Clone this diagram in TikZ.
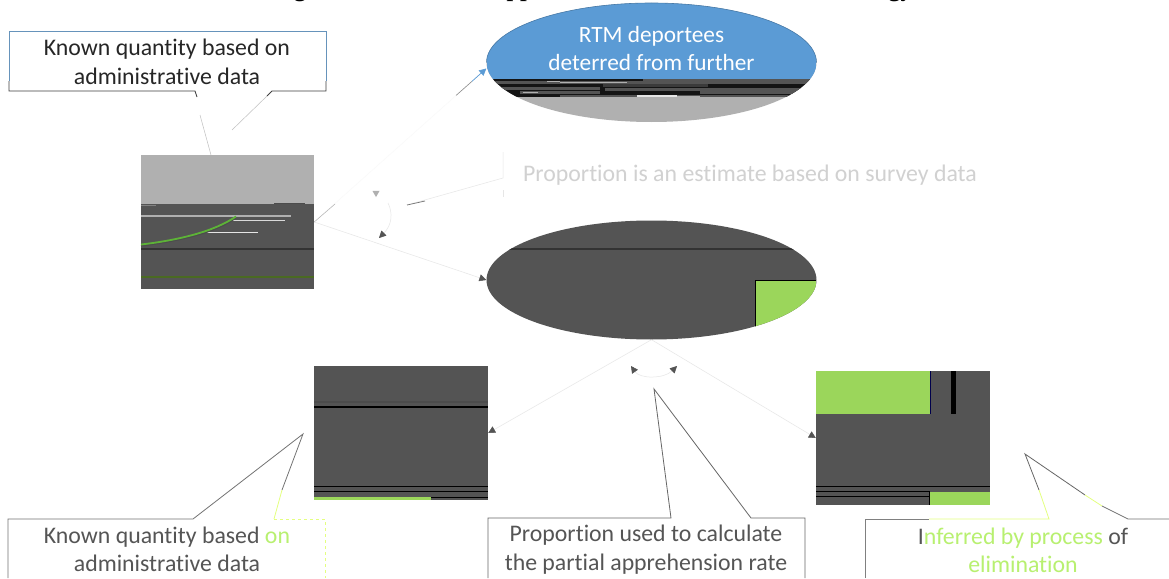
\documentclass[tikz,border=0pt]{standalone}
\usepackage{fontspec}
\setmainfont{Carlito}[Ligatures=NoCommon]
\newfontfamily\titlefont{Liberation Serif}
\usetikzlibrary{shapes.geometric,arrows.meta,calc}
\definecolor{dk}{HTML}{545454}
\definecolor{lg}{HTML}{B0B0B0}
\definecolor{bl}{HTML}{5B9BD5}
\definecolor{gr}{HTML}{9BD65B}
\definecolor{lime}{HTML}{B8F070}
\definecolor{yl}{HTML}{E4FF80}
\definecolor{tx}{HTML}{555555}
\definecolor{fnt}{HTML}{E6E6E6}
\definecolor{vfnt}{HTML}{F9F9F9}
\definecolor{dgreen}{HTML}{4A6A22}
\tikzset{
  darkbox/.style={rectangle,inner sep=0pt,minimum width=174pt,minimum height=134pt,fill=dk},
  oval/.style={ellipse,inner sep=0pt,minimum width=330pt,minimum height=119pt},
  lbl/.style={align=center,font=\fontsize{23.8}{28.5}\selectfont,text=tx,inner sep=0pt},
  faint/.style={draw=fnt,line width=0.5pt},
  endtip/.style={-{Triangle[length=7pt,width=7pt,color=#1,fill=#1]}},
  seg/.style={line width=0.8pt,draw=#1},
  titletext/.style={font=\titlefont\bfseries\fontsize{24}{24}\selectfont,anchor=base,inner sep=0pt}
}
\begin{document}
\begin{tikzpicture}[x=1pt,y=-1pt]
\useasboundingbox (0,0) rectangle (1169,578);
\clip (0,0) rectangle (1169,578);
\fill[white] (0,0) rectangle (1169,578);
% title remnants
\node[titletext] (tg) at (300,-3) {g};
\node[titletext] (tp) at (520,-3) {pp};
\node[titletext] (ty) at (903,-3) {gy,};
% shapes
\node[darkbox,minimum width=173pt] (boxA) at (227.5,222) {};
\node[darkbox] (boxB) at (401,433) {};
\node[darkbox] (boxC) at (903,438) {};
\node[oval,fill=lg,draw=none] (topE) at (651.5,62.5) {};
\node[oval,fill=dk] (midE) at (651.5,280) {};
% box A details
\fill[lg] (141,155) rectangle (314,204);
\draw[line width=1.5pt,color=lg] (141,216) -- (291,216);
\draw[line width=1.8pt,color=white!85!black] (233,220.5) -- (285,220.5);
\draw[line width=1pt,color=white!90!black] (206,232) -- (258,232);
\draw[line width=2pt,color=black!80] (141,248.5) -- (314,248.5);
\draw[line width=1.2pt,color=dgreen] (141,277) -- (314,277);
\draw[line width=1.2pt,color=black!70] (141,246) .. controls (180,241) and (215,233) .. (236,218);
\draw[line width=1.8pt,color=gr!75!green!80!black] (141,244.5) .. controls (180,240) and (215,231) .. (236,216.5);
\draw[line width=1pt,color=black!70] (274,203.5) -- (305,203.5);
\draw[line width=1pt,color=lg!50!dk] (141,205) -- (156,205);
% top ellipse details
\begin{scope}
\clip (651.5,62.5) ellipse [x radius=165pt,y radius=59.5pt];
\fill[bl] (487,0) rectangle (817,79);
\fill[black!92] (487,79) rectangle (817,97);
\fill[dk] (643,79) rectangle (817,81);
\fill[dk] (487,81) rectangle (817,84);
\fill[dk!70!black] (603,84) rectangle (708,87);
\fill[dk] (487,87) rectangle (600,89.5);
\fill[dk] (605,88) rectangle (817,90.5);
\fill[dk] (520,91) rectangle (600,94);
\fill[dk] (700,91) rectangle (817,94);
\fill[dk] (560,95) rectangle (817,97);
\draw[line width=1pt,color=white!70!black] (547,81.8) -- (560,81.8);
\draw[line width=0.8pt,color=lg] (560,82) -- (627,82);
\draw[line width=1pt,color=lg] (523,92.5) -- (538,92.5);
\draw[line width=1.5pt,color=white!90!black] (637,96.2) -- (677,96.2);
\draw[line width=1pt,color=lg] (677,96.5) -- (700,96.5);
\end{scope}
\draw[bl!80!black,line width=0.6pt] (486.5,62.5) arc[start angle=180,end angle=0,x radius=165pt,y radius=59.5pt];
% middle ellipse details
\begin{scope}
\clip (651.5,280) ellipse [x radius=165pt,y radius=59.5pt];
\fill[gr] (755,280) rectangle (817,340);
\draw[line width=1pt,color=black] (755,340) -- (755,280) -- (817,280);
\draw[line width=2pt,color=black!80] (487,248.5) -- (817,248.5);
\end{scope}
% box B details
\draw[line width=2pt,color=black!70] (314,402) -- (488,402);
\draw[line width=1.5pt,color=black] (314,407) -- (488,407);
\foreach \yy in {486,491,497} \draw[line width=0.8pt,color=black] (314,\yy) -- (488,\yy);
\fill[gr] (314,497) rectangle (431,500);
% box C details
\fill[gr] (816,371) rectangle (930,414);
\draw[line width=0.8pt,color=black!70!blue] (930,371) -- (930,414);
\fill[black] (951,371) rectangle (956,414);
\draw[line width=0.8pt,color=black] (816,486) -- (990,486);
\draw[line width=0.8pt,color=black] (816,491) -- (929,491);
\draw[line width=0.8pt,color=black] (816,496) -- (929,496);
\fill[gr] (929,492) rectangle (990,505);
\draw[line width=0.8pt,color=black] (929,491) -- (929,505);
% labels in shapes
\node[lbl,text=white,font=\fontsize{23.3}{28}\selectfont] (topT) at (651.5,48.5) {RTM deportees\\deterred from further};
% connectors
\coordinate (topIn) at ($(topE.west)+(0,6)$);
\draw[draw=vfnt,line width=0.5pt,endtip=bl] (boxA.east) -- (topIn);
\draw[faint,endtip=dk] (boxA.east) -- (midE.west);
\draw[faint,endtip=dk] (midE.south) -- (boxB.east);
\draw[faint,endtip=dk] (midE.south) -- (boxC.west);
\coordinate (a1) at (335,204);
\draw[line width=0.5pt,color=black!30] (boxA.east) -- (a1);
\coordinate (a2) at (456,95.5);
\coordinate (a3) at (472,81.3);
\coordinate (a4) at (483,71.5);
\draw[line width=0.6pt,color=black!45] (a2) -- (a3);
\draw[line width=0.7pt,color=bl] (a3) -- (a4);
% survey callout
\node[lbl,text=black!18,anchor=center] (survey) at (750,175) {Proportion is an estimate based on survey data};
\coordinate (s1) at (503,152);
\coordinate (s2) at (503,178);
\coordinate (s3) at (407,205);
\coordinate (s4) at (503,190);
\coordinate (s5) at (503,197);
\draw[line width=0.5pt,color=fnt] (s1) -- (s2) -- (s3);
\draw[line width=0.7pt,color=black!55] (s3) -- (425,201);
\draw[line width=0.5pt,color=fnt] (s4) -- (s5);
% curved double arrows
\node[fill=lg,isosceles triangle,shape border rotate=-90,isosceles triangle apex angle=60,inner sep=0pt,minimum height=6pt,minimum width=7pt] (tri) at (376,193) {};
\draw[line width=0.5pt,color=fnt,endtip=dk] (388,203) .. controls (393,213) and (392,225) .. (379,238);
\draw[line width=0.5pt,color=fnt,{Triangle[length=7pt,width=7pt,color=dk,fill=dk]}-{Triangle[length=7pt,width=7pt,color=dk,fill=dk]}] (631,366) .. controls (640,379) and (664,379) .. (677,366);
% top-left callout
\node[lbl,text=black!85] (c1t) at (167,62) {Known quantity based on\\administrative data};
\coordinate (k1) at (9,31); \coordinate (k2) at (326,31);
\coordinate (k3) at (326,91); \coordinate (k4) at (9,91);
\coordinate (k5) at (272,91); \coordinate (k6) at (195,91);
\coordinate (k7) at (211,155);
\coordinate (k8) at (9,81); \coordinate (k9) at (326,81);
\draw[seg=bl!70!gray] (k8) -- (k1) -- (k2) -- (k9);
\draw[seg=black!75] (k8) -- (k4) -- (k6) -- (197,97);
\draw[seg=black!75] (k9) -- (k3) -- (k5) -- (267,96);
\draw[line width=0.5pt,color=black!25] (200,115) -- (k7);
\draw[line width=0.5pt,color=black!25] (267,96) -- (232,130);
% bottom-left callout
\node[lbl] (c2t) at (167,549.5) {Known quantity based \textcolor{lime}{on}\\administrative data};
\coordinate (b1) at (8,578); \coordinate (b2) at (8,519);
\coordinate (b3) at (193,519); \coordinate (b4) at (303,434);
\coordinate (b5) at (282,490); \coordinate (b6) at (274,519);
\coordinate (b7) at (325,519); \coordinate (b8) at (325,578);
\draw[seg=black!55] (b1) -- (b2) -- (b3) -- (b4) -- (b5);
\draw[seg=yl] (b5) -- (b6);
\draw[seg=yl,dashed] (b6) -- (b7) -- (b8);
% bottom-middle callout
\node[lbl] (c3t) at (646,549.5) {Proportion used to calculate\\the partial apprehension rate};
\coordinate (m1) at (488,578); \coordinate (m2) at (488,518);
\coordinate (m3) at (671,518); \coordinate (m4) at (654,389);
\coordinate (m5) at (751,518); \coordinate (m6) at (805,518);
\coordinate (m7) at (805,578);
\draw[seg=black!60] (m1) -- (m2) -- (m3) -- (m4) -- (m5) -- (m6) -- (m7);
% bottom-right callout
\node[lbl] (c4t) at (1023,550.5) {I\textcolor{lime}{nferred by process} of\\\textcolor{lime}{elimination}};
\coordinate (r1) at (865,578); \coordinate (r2) at (865,519);
\coordinate (r3) at (929,519); \coordinate (r4) at (1049,519);
\coordinate (r5) at (1039,490); \coordinate (r6) at (1025,454);
\coordinate (r7) at (1085,495); \coordinate (r8) at (1102,506);
\coordinate (r9) at (1128,519); \coordinate (r10) at (1169,519);
\draw[seg=black!50] (r1) -- (r2) -- (r3);
\draw[seg=yl] (r3) -- (r4) -- (r5);
\draw[seg=black!60] (r5) -- (r6) -- (r7);
\draw[seg=yl] (r7) -- (r8);
\draw[seg=black!55] (r8) -- (r9) -- (r10);
\end{tikzpicture}
\end{document}
